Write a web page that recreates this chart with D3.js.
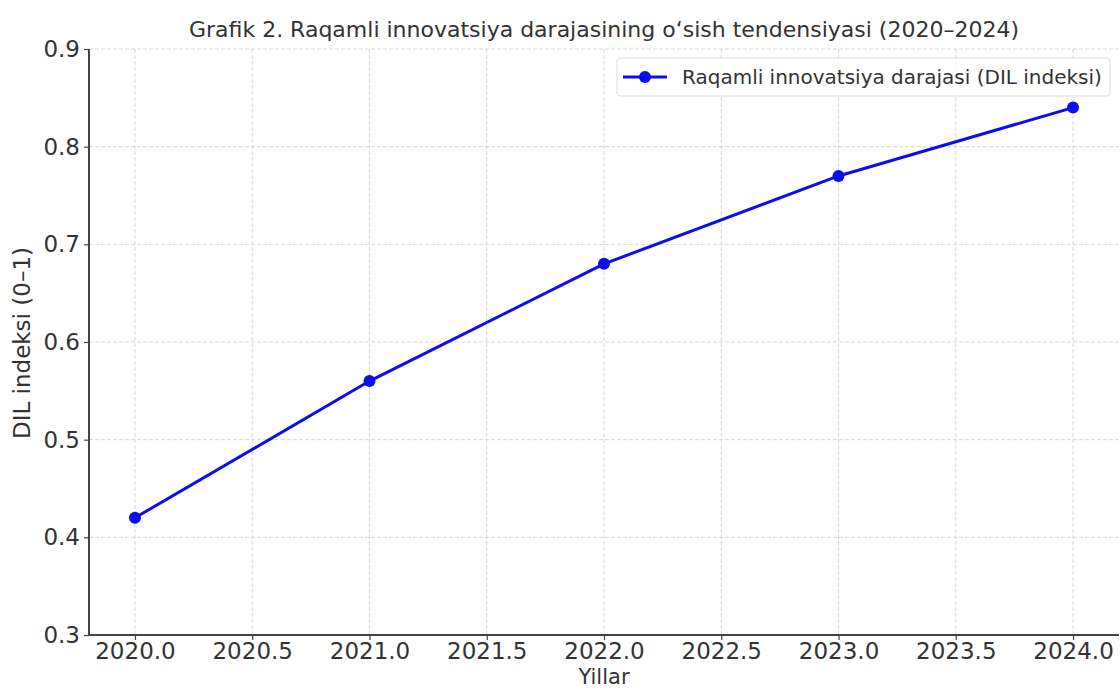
<!DOCTYPE html>
<html>
<head>
<meta charset="utf-8">
<script src="https://cdn.jsdelivr.net/npm/d3@7"></script>
<style>
  body { margin: 0; background: #fff; }
  text { font-family: "DejaVu Sans", sans-serif; fill: #333; }
</style>
</head>
<body>
<script>
// Data
const years = [2020, 2021, 2022, 2023, 2024];
const dil = [0.42, 0.56, 0.68, 0.77, 0.84];
const xTicks = [2020.0, 2020.5, 2021.0, 2021.5, 2022.0, 2022.5, 2023.0, 2023.5, 2024.0];
const yTicks = [0.3, 0.4, 0.5, 0.6, 0.7, 0.8, 0.9];

const W = 1120, H = 691;
const m = {left: 89, right: 1, top: 49, bottom: 56};

let svg = d3.select("body").append("svg")
    .attr("width", W)
    .attr("height", H);

let x = d3.scaleLinear().domain([2019.804, 2024.196]).range([m.left, W - m.right]);
let y = d3.scaleLinear().domain([0.3, 0.9]).range([H - m.bottom, m.top]);

// grid
let grid = svg.append("g");
grid.selectAll(".gx").data(xTicks).enter().append("line")
    .attr("x1", d => x(d)).attr("x2", d => x(d))
    .attr("y1", y(0.3)).attr("y2", y(0.9))
    .attr("stroke", "#ccc").attr("stroke-width", 1)
    .attr("stroke-dasharray", "4,2").attr("opacity", 0.75);
grid.selectAll(".gy").data(yTicks).enter().append("line")
    .attr("x1", m.left).attr("x2", W - m.right)
    .attr("y1", d => y(d)).attr("y2", d => y(d))
    .attr("stroke", "#ccc").attr("stroke-width", 1)
    .attr("stroke-dasharray", "4,2").attr("opacity", 0.75);

// axes
let xAxis = svg.append("g")
    .attr("transform", `translate(0,${y(0.3)})`)
    .call(d3.axisBottom(x).tickValues(xTicks).tickFormat(d3.format(".1f")).tickSize(5).tickPadding(3));
let yAxis = svg.append("g")
    .attr("transform", `translate(${m.left},0)`)
    .call(d3.axisLeft(y).tickValues(yTicks).tickFormat(d3.format(".1f")).tickSize(5).tickPadding(4));

[xAxis, yAxis].forEach(a => {
    a.select(".domain").attr("stroke", "#444").attr("stroke-width", 2);
    a.selectAll(".tick line").attr("stroke", "#444").attr("stroke-width", 1.2);
    a.selectAll(".tick text").style("font-size", "23px").style("fill", "#333")
        .style("font-family", "DejaVu Sans, sans-serif");
});
xAxis.select(".domain").attr("d", `M${m.left},0H${W - m.right}`);
yAxis.select(".domain").attr("d", `M0,${y(0.3)}V${y(0.9)}`);

// line
let line = d3.line().x((d, i) => x(years[i])).y(d => y(d));
svg.append("path")
    .datum(dil)
    .attr("d", line)
    .attr("fill", "none")
    .attr("stroke", "#0c0cf0")
    .attr("stroke-width", 3);
svg.selectAll(".pt").data(dil).enter().append("circle")
    .attr("cx", (d, i) => x(years[i]))
    .attr("cy", d => y(d))
    .attr("r", 6)
    .attr("fill", "#0c0cf0");

// title & labels
svg.append("text")
    .attr("x", 604).attr("y", 37)
    .attr("text-anchor", "middle")
    .style("font-size", "22px")
    .text("Grafik 2. Raqamli innovatsiya darajasining o‘sish tendensiyasi (2020–2024)");
svg.append("text")
    .attr("x", 604).attr("y", 684)
    .attr("text-anchor", "middle")
    .style("font-size", "21px")
    .text("Yillar");
svg.append("text")
    .attr("transform", `translate(30,343) rotate(-90)`)
    .attr("text-anchor", "middle")
    .style("font-size", "23px")
    .text("DIL indeksi (0–1)");

// legend
let lg = svg.append("g").attr("transform", "translate(617,58)");
lg.append("rect")
    .attr("width", 493).attr("height", 38).attr("rx", 3)
    .attr("fill", "#fff").attr("fill-opacity", 0.85)
    .attr("stroke", "#ddd");
lg.append("line")
    .attr("x1", 6).attr("x2", 50).attr("y1", 19).attr("y2", 19)
    .attr("stroke", "#0c0cf0").attr("stroke-width", 3);
lg.append("circle").attr("cx", 28).attr("cy", 19).attr("r", 6).attr("fill", "#0c0cf0");
lg.append("text")
    .attr("x", 65).attr("y", 26)
    .style("font-size", "20px")
    .text("Raqamli innovatsiya darajasi (DIL indeksi)");
</script>
</body>
</html>
